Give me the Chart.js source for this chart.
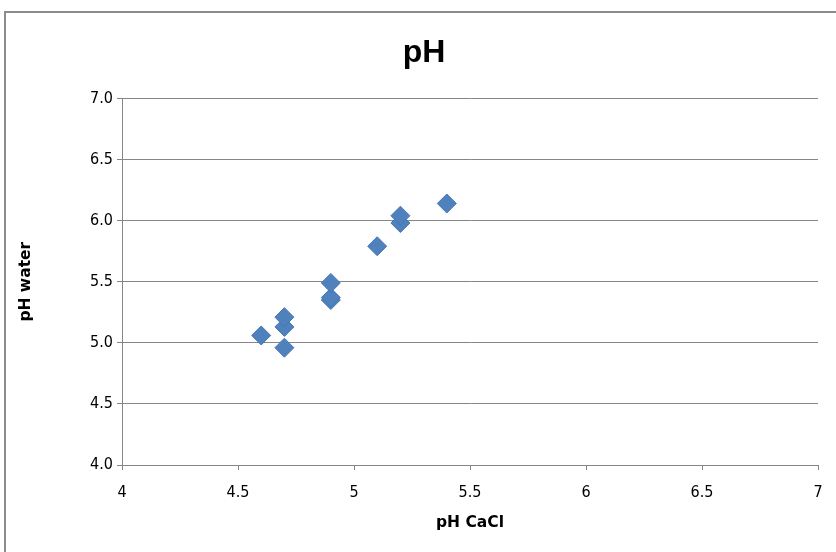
<!DOCTYPE html>
<html>
<head>
<meta charset="utf-8">
<script src="https://cdn.jsdelivr.net/npm/chart.js@4"></script>
<style>
  html, body { margin: 0; padding: 0; background: #fff; overflow: hidden; }
  #frame { position: absolute; left: 4px; top: 11px; width: 900px; height: 600px; border: 2px solid #8c8c8c; }
  #wrap { position: absolute; left: 0; top: 0; width: 836px; height: 552px; }
</style>
</head>
<body>
<div id="frame"></div>
<div id="wrap"><canvas id="phChart" width="836" height="552"></canvas></div>
<script>
const phCaCl = [4.6, 4.7, 4.7, 4.7, 4.9, 4.9, 4.9, 5.1, 5.2, 5.2, 5.4];
const phWater = [5.06, 4.96, 5.13, 5.21, 5.35, 5.37, 5.49, 5.79, 5.98, 6.04, 6.14];

const tickFont = { family: "'DejaVu Sans Condensed', sans-serif", size: 16 };
const boldFont = { family: "'DejaVu Sans', sans-serif", size: 15.5, weight: 'bold' };
const lineGray = '#868686';

const points = phCaCl.map((x, i) => ({ x: x, y: phWater[i] }));

const config = {
    type: 'scatter',
    data: {
        datasets: [{
            label: 'pH water',
            data: points,
            pointStyle: 'rectRot',
            pointRadius: 9.5,
            pointHoverRadius: 9.5,
            backgroundColor: '#4f81bd',
            borderColor: '#4677b0',
            borderWidth: 1
        }]
    },
    options: {
        responsive: false,
        animation: false,
        layout: {
            padding: { left: 12, right: 0, top: 14, bottom: 0 }
        },
        scales: {
            x: {
                type: 'linear',
                position: 'bottom',
                min: 4,
                max: 7,
                ticks: {
                    stepSize: 0.5,
                    color: '#000',
                    font: tickFont,
                    padding: 13,
                    callback: function (value) { return String(value); }
                },
                grid: { drawOnChartArea: false, drawTicks: true, tickLength: 5, color: lineGray },
                border: { color: lineGray },
                title: {
                    display: true,
                    text: 'pH CaCl',
                    color: '#000',
                    font: boldFont,
                    padding: { top: 0, bottom: 20 }
                },
                afterFit: function (scale) { scale.height = 87; }
            },
            y: {
                type: 'linear',
                position: 'left',
                min: 4,
                max: 7,
                ticks: {
                    stepSize: 0.5,
                    color: '#000',
                    font: tickFont,
                    padding: 4,
                    callback: function (value) { return value.toFixed(1); }
                },
                grid: { color: lineGray, tickLength: 5 },
                border: { color: lineGray },
                title: {
                    display: true,
                    text: 'pH water',
                    color: '#000',
                    font: boldFont,
                    padding: { top: 5, bottom: 0 }
                },
                afterFit: function (scale) { scale.width = 110; }
            },
            spacer: {
                type: 'linear',
                position: 'right',
                min: 0,
                max: 1,
                ticks: { display: false },
                grid: { display: false },
                border: { display: false },
                afterFit: function (scale) { scale.width = 18; }
            }
        },
        plugins: {
            legend: { display: false },
            tooltip: { enabled: false },
            title: {
                display: true,
                text: 'pH',
                color: '#000',
                font: { family: "'Liberation Sans', 'DejaVu Sans', sans-serif", size: 32, weight: 'bold' },
                padding: { top: 20, bottom: 26 }
            }
        }
    }
};

const phChart = new Chart(document.getElementById('phChart'), config);
</script>
</body>
</html>
